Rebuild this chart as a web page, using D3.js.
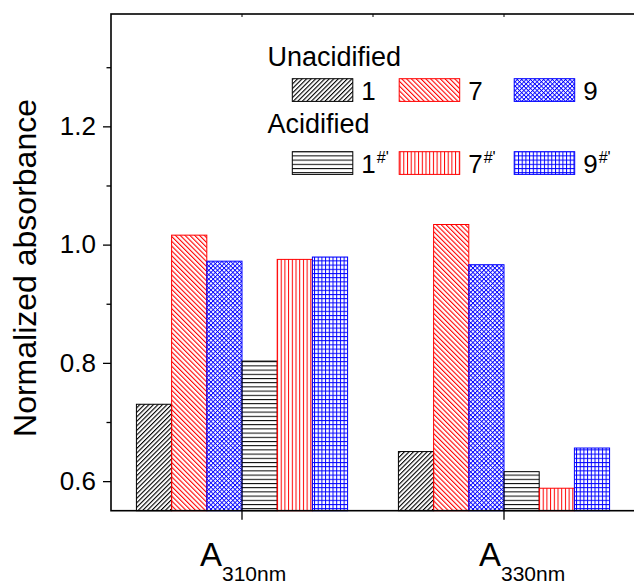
<!DOCTYPE html>
<html>
<head>
<meta charset="utf-8">
<script src="https://cdn.jsdelivr.net/npm/d3@7"></script>
<style>
	body { margin: 0; background: #fff; }
	text { font-family: Arial, "Liberation Sans", sans-serif; fill: #000; }
</style>
</head>
<body>
<svg id="chart" width="634" height="585"></svg>
<script>
// values
var categories = ["310nm", "330nm"];
var series = ["1", "7", "9", "1#'", "7#'", "9#'"];
var values310 = [0.730, 1.016, 0.972, 0.803, 0.975, 0.979];
var values330 = [0.650, 1.034, 0.966, 0.616, 0.588, 0.656];
var yMajor = [0.6, 0.8, 1.0, 1.2];
var yMinor = [0.7, 0.9, 1.1, 1.3];
var legendGroups = ["Unacidified", "Acidified"];

var seriesColor = ["#000", "#f00", "#00f", "#000", "#f00", "#00f"];
var seriesPattern = ["diagUp", "diagDown", "cross", "horiz", "vert", "grid"];

// plot box (window.top is reserved, so no plain "top")
var pLeft = 111, pTop = 14, pRight = 635, pBottom = 510.7;

var svg = d3.select("#chart");
var defs = svg.append("defs");

function stripes(id, color, size, angle, both, lw) {
	var p = defs.append("pattern")
		.attr("id", id)
		.attr("patternUnits", "userSpaceOnUse")
		.attr("width", size).attr("height", size)
		.attr("patternTransform", "rotate(" + angle + ")");
	p.append("rect").attr("x", 0).attr("y", 0).attr("width", lw).attr("height", size).attr("fill", color);
	if (both) p.append("rect").attr("x", 0).attr("y", 0).attr("width", size).attr("height", lw).attr("fill", color);
}

function lines(id, color, w, h, vertical, horizontal) {
	var p = defs.append("pattern")
		.attr("id", id)
		.attr("patternUnits", "userSpaceOnUse")
		.attr("width", w).attr("height", h);
	if (vertical) p.append("rect").attr("x", 0).attr("y", 0).attr("width", 1).attr("height", h).attr("fill", color);
	if (horizontal) p.append("rect").attr("x", 0).attr("y", 0).attr("width", w).attr("height", 1).attr("fill", color);
}

stripes("diagUp", "#000", 3.2, 45, false, 1.1);
stripes("diagDown", "#f00", 3.4, -45, false, 1.1);
stripes("cross", "#00f", 3.1, 45, true, 0.9);
lines("horiz", "#000", 10, 4.2, false, true);
lines("vert", "#f00", 3.7, 10, true, false);
lines("grid", "#00f", 3.7, 4.2, true, true);

var x0 = d3.scaleBand().domain(categories).range([pLeft, pRight]);
var groupWidth = x0.bandwidth() * 0.806;
var x1 = d3.scaleBand().domain(series).range([0, groupWidth]);
var y = d3.scaleLinear().domain([0.55, 1.39]).range([pBottom, pTop]);

var table = categories.map(function (c, i) {
	var vals = i == 0 ? values310 : values330;
	return { cat: c, bars: series.map(function (s, j) { return { s: s, j: j, v: vals[j] }; }) };
});

// bars
var groups = svg.append("g").selectAll("g")
	.data(table).enter().append("g")
	.attr("transform", function (d) { return "translate(" + (x0(d.cat) + (x0.bandwidth() - groupWidth) / 2) + ",0)"; });

groups.selectAll("rect")
	.data(function (d) { return d.bars; })
	.enter().append("rect")
	.attr("x", function (d) { return x1(d.s); })
	.attr("y", function (d) { return y(d.v); })
	.attr("width", x1.bandwidth())
	.attr("height", function (d) { return y(0.55) - y(d.v); })
	.attr("fill", function (d) { return "url(#" + seriesPattern[d.j] + ")"; })
	.attr("stroke", function (d) { return seriesColor[d.j]; })
	.attr("stroke-width", 1);

// axes
var yAxis = d3.axisLeft(y).tickValues(yMajor).tickSize(8).tickPadding(7).tickFormat(d3.format(".1f"));
var gy = svg.append("g").attr("transform", "translate(" + pLeft + ",0)").call(yAxis);
gy.select(".domain").remove();
gy.selectAll("text").style("font-size", "26px").attr("font-family", null);
gy.selectAll("line").attr("stroke-width", 1.3);

var gyMinor = svg.append("g").attr("transform", "translate(" + pLeft + ",0)")
	.call(d3.axisLeft(y).tickValues(yMinor).tickSize(4.5).tickFormat(""));
gyMinor.select(".domain").remove();
gyMinor.selectAll("line").attr("stroke-width", 1.3);

var xAxis = d3.axisBottom(x0).tickSize(9).tickFormat("");
var gx = svg.append("g").attr("transform", "translate(0," + pBottom + ")").call(xAxis);
gx.select(".domain").remove();
gx.selectAll("line").attr("stroke-width", 1.3);

// top ticks (inward)
var topTicks = [categories[0], "mid", categories[1]];
svg.append("g").selectAll("line")
	.data(topTicks).enter().append("line")
	.attr("x1", function (d) { return d == "mid" ? pLeft + x0.bandwidth() : x0(d) + x0.bandwidth() / 2; })
	.attr("x2", function (d) { return d == "mid" ? pLeft + x0.bandwidth() : x0(d) + x0.bandwidth() / 2; })
	.attr("y1", pTop).attr("y2", pTop + 3)
	.attr("stroke", "#000").attr("stroke-width", 1);

// frame
svg.append("rect")
	.attr("x", pLeft).attr("y", pTop)
	.attr("width", pRight - pLeft).attr("height", pBottom - pTop)
	.attr("fill", "none").attr("stroke", "#000").attr("stroke-width", 1.6);

// category labels  A_310nm / A_330nm
var labelShift = [-42, -25];
var xl = svg.append("g").selectAll("text")
	.data(categories).enter().append("text")
	.attr("x", function (d, i) { return x0(d) + x0.bandwidth() / 2 + labelShift[i]; })
	.attr("y", 565.7);
xl.append("tspan").style("font-size", "33px").text("A");
xl.append("tspan").style("font-size", "21px").attr("dy", 15).text(function (d) { return d; });

// y title
svg.append("text")
	.attr("transform", "translate(36,268) rotate(-90)")
	.attr("text-anchor", "middle")
	.style("font-size", "32px")
	.text("Normalized absorbance");

// legend
var legTitleY = [65.7, 133.3];
var legRowY = [78.7, 151.7];
var legBoxX = [292.3, 399.2, 514.2];
var leg = svg.append("g");
legendGroups.forEach(function (g, r) {
	leg.append("text").attr("x", 267.5).attr("y", legTitleY[r]).style("font-size", "27px").text(g);
	for (var k = 0; k < 3; k++) {
		var j = r * 3 + k;
		leg.append("rect")
			.attr("x", legBoxX[k]).attr("y", legRowY[r])
			.attr("width", 60.5).attr("height", 22.7)
			.attr("fill", "url(#" + seriesPattern[j] + ")")
			.attr("stroke", seriesColor[j]).attr("stroke-width", 1);
		var t = leg.append("text")
			.attr("x", legBoxX[k] + 69)
			.attr("y", legRowY[r] + 21.5)
			.style("font-size", "26px");
		t.append("tspan").text(series[j].charAt(0));
		if (series[j].length > 1) {
			t.append("tspan").style("font-size", "16px").attr("dx", 1).attr("dy", -10).text(series[j].slice(1));
		}
	}
});
</script>
</body>
</html>
